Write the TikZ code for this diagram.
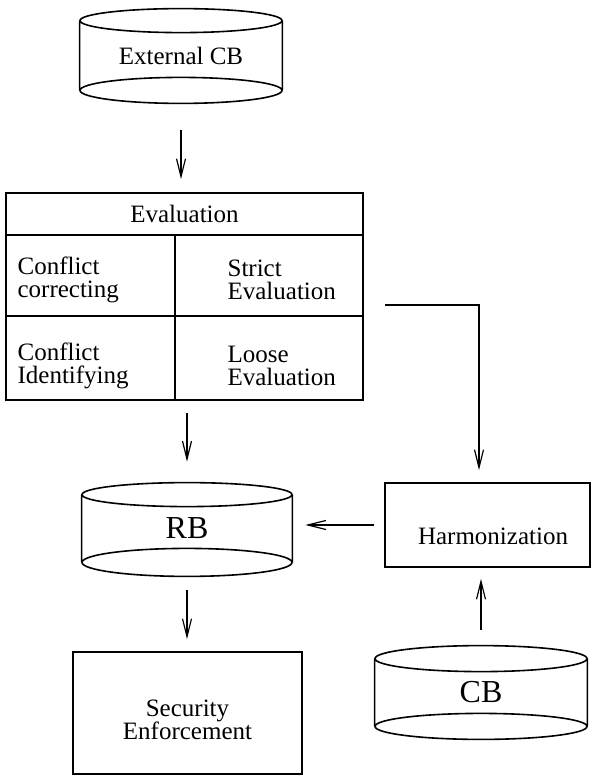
\documentclass[tikz,border=0pt]{standalone}
\usepackage{fontspec}
\setmainfont{Liberation Serif}
\usepackage{amsmath,tikz}
\usetikzlibrary{arrows.meta}

\tikzset{
  box/.style={draw, line width=0.8pt, inner sep=0pt, align=center,
    font=\fontsize{12.5}{11.5}\selectfont},
  txt/.style={inner sep=0pt, align=left, anchor=west,
    font=\fontsize{12.5}{11.5}\selectfont},
  drum/.style={inner sep=0pt},
  arr/.style={line width=0.6pt, -{Straight Barb[length=9pt,width=4.5pt]}}
}

\begin{document}
\begin{tikzpicture}[x=0.5pt,y=-0.5pt]
\useasboundingbox (0,0) rectangle (592,777);

% the three data bases
\node[drum, minimum width=101pt, minimum height=34.5pt,
  font=\fontsize{12.5}{10}\selectfont] (ext) at (181,55.5) {External CB};
\node[drum, minimum width=105pt, minimum height=33.5pt,
  font=\fontsize{16}{16}\selectfont] (rb) at (187,528.5) {RB};
\node[drum, minimum width=106pt, minimum height=33.5pt,
  font=\fontsize{16}{16}\selectfont] (cb) at (481,692.5) {CB};

\foreach \n/\r/\a/\b in {ext/101/12/13, rb/105/12/14, cb/106/13/13}
{
\draw[line width=0.8pt]
  (\n.north west) -- (\n.south west) (\n.north east) -- (\n.south east)
  (\n.north) ellipse [x radius=\r, y radius=\a]
  (\n.south) ellipse [x radius=\r, y radius=\b];
}

% evaluation table
\node[box, minimum width=178.5pt, minimum height=21pt] (eval) at (184.5,214) {Evaluation};
\node[box, minimum width=84.5pt, minimum height=40.5pt] (cc) at (90.5,275.5) {};
\node[box, minimum width=94pt, minimum height=40.5pt] (se) at (269,275.5) {};
\node[box, minimum width=84.5pt, minimum height=42pt] (ci) at (90.5,358) {};
\node[box, minimum width=94pt, minimum height=42pt] (le) at (269,358) {};

\node[txt] (cctext) at ([xshift=6pt,yshift=-2pt]cc.west) {Conflict\\correcting};
\node[txt] (setext) at ([xshift=26.5pt,yshift=-2pt]se.west) {Strict\\Evaluation};
\node[txt] (citext) at ([xshift=6pt,yshift=-4pt]ci.west) {Conflict\\Identifying};
\node[txt] (letext) at ([xshift=26.5pt,yshift=-4pt]le.west) {Loose\\Evaluation};

% other boxes
\node[box, minimum width=102.5pt, minimum height=42pt] (harm) at (487.5,525) {};
\node[box, minimum width=114.5pt, minimum height=61pt] (sec) at (187.5,713) {};
\node[txt, anchor=center] (harmtext) at ([xshift=2.75pt,yshift=-5.5pt]harm.center) {Harmonization};
\node[txt, anchor=center, align=center] (sectext) at ([yshift=-3.5pt]sec.center) {Security\\Enforcement};

% arrows
\draw[arr, shorten <=20pt, shorten >=6.5pt] (ext.south) -- (ext.south |- eval.north);
\draw[arr, shorten <=6pt, shorten >=16.5pt] (rb.north |- ci.south) -- (rb.north);
\draw[arr, shorten >=6pt] ([shift={(21,29.5)}]se.east) -| ([xshift=-4.25pt]harm.north);
\draw[arr, shorten <=5pt, shorten >=6.5pt] (harm.west) -- (harm.west -| rb.east);
\draw[arr, shorten <=14.5pt, shorten >=5.5pt] (cb.north) -- (cb.north |- harm.south);
\draw[arr, shorten <=14pt, shorten >=6pt] (rb.south) -- (rb.south |- sec.north);

\end{tikzpicture}
\end{document}
